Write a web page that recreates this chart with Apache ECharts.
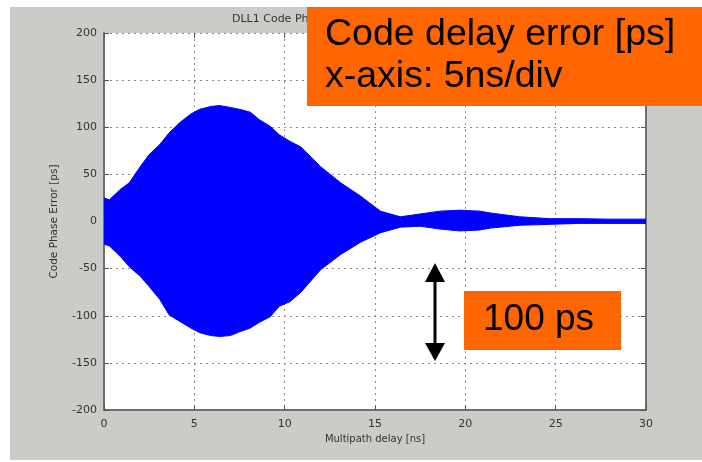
<!DOCTYPE html>
<html>
<head>
<meta charset="utf-8">
<script src="https://cdn.jsdelivr.net/npm/echarts@6/dist/echarts.min.js"></script>
<style>
  html, body { margin: 0; padding: 0; background: #fff; }
  #chart { width: 702px; height: 462px; }
</style>
</head>
<body>
<div id="chart"></div>
<script>
// multipath delay [ns] where the envelope was read
const delayNs = [0, 0.3, 0.9, 1.4, 2.0, 2.5, 3.1, 3.6, 4.2, 4.8, 5.3, 5.9, 6.4, 7.0, 7.5, 8.1, 8.6, 9.2, 9.7, 10.3, 10.9, 12.0, 13.1, 14.2, 15.3, 16.4, 17.5, 18.6, 19.7, 20.8, 21.4, 23.0, 24.7, 26.3, 28.0, 30.0]
// upper / lower envelope of the code phase error [ps]
const upperPs = [25, 23, 34, 41, 58, 71, 82, 94, 105, 114, 119, 122, 123, 121, 119, 116, 108, 101, 92, 85, 79, 58, 41, 27, 11, 5, 8, 11, 12, 11, 9, 5, 3, 3, 2.5, 2.5]
const lowerPs = [-24, -26, -37, -48, -58, -69, -83, -99, -106, -113, -118, -121, -122, -121, -117, -113, -107, -101, -90, -85, -75, -51, -35, -22, -12, -6, -5, -8, -10, -9, -7, -4, -3, -2, -2, -2]

const xTicks = [0, 5, 10, 15, 20, 25, 30]
const yTicks = [-200, -150, -100, -50, 0, 50, 100, 150, 200]

const chart = echarts.init(document.getElementById('chart'))

const blue = '#0000ff'
const labelFont = { color: '#333', fontSize: 11, fontFamily: 'DejaVu Sans' }
const gridLine = { show: true, lineStyle: { color: '#8a8a8a', type: [2, 4], width: 1 } }
const tick = { inside: true, length: 5, lineStyle: { color: '#555' } }

const option = {
  animation: false,
  title: {
    text: 'DLL1 Code Phase Error vs. Multipath Delay',
    left: 227,
    top: 9,
    textStyle: { color: '#333', fontSize: 11, fontWeight: 'normal', fontFamily: 'DejaVu Sans' }
  },
  grid: {
    left: 104,
    top: 33,
    right: 56,
    bottom: 52,
    show: true,
    backgroundColor: '#fff',
    borderWidth: 0
  },
  xAxis: [
    {
      type: 'value',
      min: xTicks[0],
      max: xTicks[xTicks.length - 1],
      interval: 5,
      name: 'Multipath delay [ns]',
      nameLocation: 'middle',
      nameGap: 22,
      nameTextStyle: { color: '#333', fontSize: 10, fontFamily: 'DejaVu Sans' },
      axisLine: { onZero: false, lineStyle: { color: '#6e6e6e', width: 2 } },
      axisTick: tick,
      axisLabel: Object.assign({ margin: 9 }, labelFont),
      splitLine: gridLine
    },
    {
      type: 'value',
      position: 'top',
      min: xTicks[0],
      max: xTicks[xTicks.length - 1],
      interval: 5,
      axisLine: { show: false, onZero: false },
      axisTick: tick,
      axisLabel: { show: false },
      splitLine: { show: false }
    }
  ],
  yAxis: [
    {
      type: 'value',
      min: yTicks[0],
      max: yTicks[yTicks.length - 1],
      interval: 50,
      name: 'Code Phase Error [ps]',
      nameLocation: 'middle',
      nameGap: 44,
      nameTextStyle: { color: '#333', fontSize: 10.5, fontFamily: 'DejaVu Sans' },
      axisLine: { onZero: false, lineStyle: { color: '#6e6e6e', width: 2 } },
      axisTick: tick,
      axisLabel: Object.assign({ margin: 7 }, labelFont),
      splitLine: gridLine
    },
    {
      type: 'value',
      position: 'right',
      min: yTicks[0],
      max: yTicks[yTicks.length - 1],
      interval: 50,
      axisLine: { show: true, onZero: false, lineStyle: { color: '#6e6e6e', width: 2 } },
      axisTick: tick,
      axisLabel: { show: false },
      splitLine: { show: false }
    }
  ],
  series: [
    {
      type: 'line',
      data: delayNs.map((x, i) => [x, upperPs[i]]),
      showSymbol: false,
      lineStyle: { color: blue, width: 1 },
      areaStyle: { color: blue, opacity: 1, origin: -1 },
      z: 3
    },
    {
      type: 'line',
      data: delayNs.map((x, i) => [x, lowerPs[i]]),
      showSymbol: false,
      lineStyle: { color: blue, width: 1 },
      areaStyle: { color: blue, opacity: 1, origin: 1 },
      z: 3
    }
  ],
  graphic: [
    // grey figure background
    { type: 'rect', z: -100, shape: { x: 10, y: 7, width: 692, height: 453 }, style: { fill: '#c9ccc7' } },
    // annotation box top right
    { type: 'rect', z: 100, shape: { x: 307, y: 7, width: 395, height: 99 }, style: { fill: '#ff6600' } },
    { type: 'text', z: 101, x: 325, y: 16, style: { text: 'Code delay error [ps]', font: '37.5px "Liberation Sans"', fill: '#000' } },
    { type: 'text', z: 101, x: 325, y: 58, style: { text: 'x-axis: 5ns/div', font: '37.5px "Liberation Sans"', fill: '#000' } },
    // 100 ps box
    { type: 'rect', z: 100, shape: { x: 464, y: 291, width: 157, height: 59 }, style: { fill: '#ff6600' } },
    { type: 'text', z: 101, x: 483, y: 301, style: { text: '100 ps', font: '37px "Liberation Sans"', fill: '#000' } },
    // double arrow
    { type: 'line', z: 100, shape: { x1: 435, y1: 278, x2: 435, y2: 346 }, style: { stroke: '#000', lineWidth: 3 } },
    { type: 'polygon', z: 100, shape: { points: [[435, 263], [425, 282], [445, 282]] }, style: { fill: '#000' } },
    { type: 'polygon', z: 100, shape: { points: [[435, 361], [425, 343], [445, 343]] }, style: { fill: '#000' } }
  ]
}

chart.setOption(option)
</script>
</body>
</html>
